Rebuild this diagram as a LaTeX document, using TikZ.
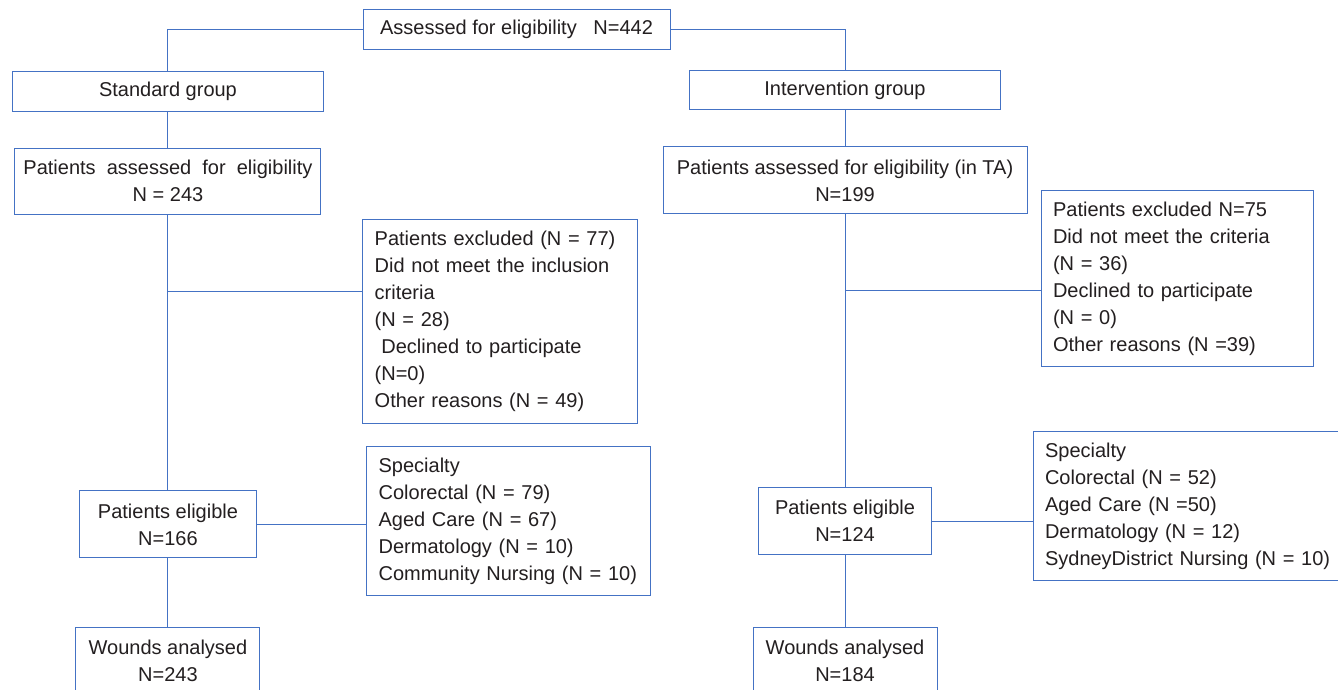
\documentclass[tikz,border=0pt]{standalone}
\usepackage{fontspec}
\setmainfont{Liberation Sans}
\usetikzlibrary{positioning}
\definecolor{lineblue}{RGB}{68,114,196}
\definecolor{inkgray}{RGB}{35,31,32}
\tikzset{
  box/.style={draw=lineblue, line width=0.75pt, text=inkgray, inner sep=0pt, align=center},
  listbox/.style={box, align=left, inner xsep=9pt},
  link/.style={draw=lineblue, line width=0.75pt}
}

\begin{document}
\begin{tikzpicture}[x=0.75pt,y=-0.75pt,on grid,font=\fontsize{15}{20.25}\selectfont]
	\clip (0,0) rectangle (1338,689);
	\fill [white] (0,0) rectangle (1338,689);
	
	\node (top) [box, minimum width=230.25pt, minimum height=30pt] at (516.5,29) {Assessed for eligibility\ \ \ N=442};
	\node (std) [box, minimum width=233.25pt, minimum height=30pt, below left=46.5pt and 261.4pt of top] {Standard group};
	\node (int) [box, minimum width=233.25pt, minimum height=29.25pt, below right=46.1pt and 246.4pt of top] {Intervention group};
	
	\node (assessL) [box, minimum width=229.5pt, minimum height=49.5pt, below=67.5pt of std] {Patients\ \ assessed\ \ for\ \ eligibility\\N = 243};
	\node (assessR) [box, minimum width=273pt, minimum height=50.25pt, below=67.5pt of int] {Patients assessed for eligibility (in TA)\\N=199};
	
	\node (exclL) [listbox, text width=187.9pt, minimum height=153pt, below right=105pt and 249pt of assessL] {Patients excluded (N = 77)\\Did not meet the inclusion\\criteria\\(N = 28)\\\ Declined to participate\\(N=0)\\Other reasons (N = 49)};
	\node (exclR) [listbox, text width=186pt, minimum height=132pt, below right=73.65pt and 249pt of assessR] {Patients excluded N=75\\Did not meet the criteria\\(N = 36)\\Declined to participate\\(N = 0)\\Other reasons (N =39)};
	
	\node (eligL) [box, minimum width=132.75pt, minimum height=50.25pt, below=257.6pt of assessL] {Patients eligible\\N=166};
	\node (eligR) [box, minimum width=129.75pt, minimum height=50.25pt, below=255.4pt of assessR] {Patients eligible\\N=124};
	
	\node (specL) [listbox, text width=195pt, minimum height=111.75pt, above right=2.6pt and 255.5pt of eligL] {Specialty\\Colorectal (N = 79)\\Aged Care (N = 67)\\Dermatology (N = 10)\\Community Nursing (N = 10)};
	\node (specR) [listbox, text width=216pt, minimum height=111.75pt, above right=11.25pt and 258pt of eligR] {Specialty\\Colorectal (N = 52)\\Aged Care (N =50)\\Dermatology (N = 12)\\SydneyDistrict Nursing (N = 10)};
	
	\node (woundsL) [box, minimum width=138pt, minimum height=51pt, below=102.4pt of eligL] {Wounds analysed\\N=243};
	\node (woundsR) [box, minimum width=138pt, minimum height=51pt, below=105pt of eligR] {Wounds analysed\\N=184};
	
	\coordinate (forkL) at (168,291);
	\coordinate (forkR) at (845.7,290);
	
	\draw [link] (top.west) -| (std.north);
	\draw [link] (top.east) -| (int.north);
	\draw [link] (std.south) -- (assessL.north);
	\draw [link] (int.south) -- (assessR.north);
	\draw [link] (assessL.south) -- (eligL.north);
	\draw [link] (assessR.south) -- (eligR.north);
	\draw [link] (forkL) -- (forkL -| exclL.west);
	\draw [link] (forkR) -- (forkR -| exclR.west);
	\draw [link] (eligL.east) -- (eligL.east -| specL.west);
	\draw [link] (eligR.east) -- (eligR.east -| specR.west);
	\draw [link] (eligL.south) -- (woundsL.north);
	\draw [link] (eligR.south) -- (woundsR.north);
\end{tikzpicture}
\end{document}
